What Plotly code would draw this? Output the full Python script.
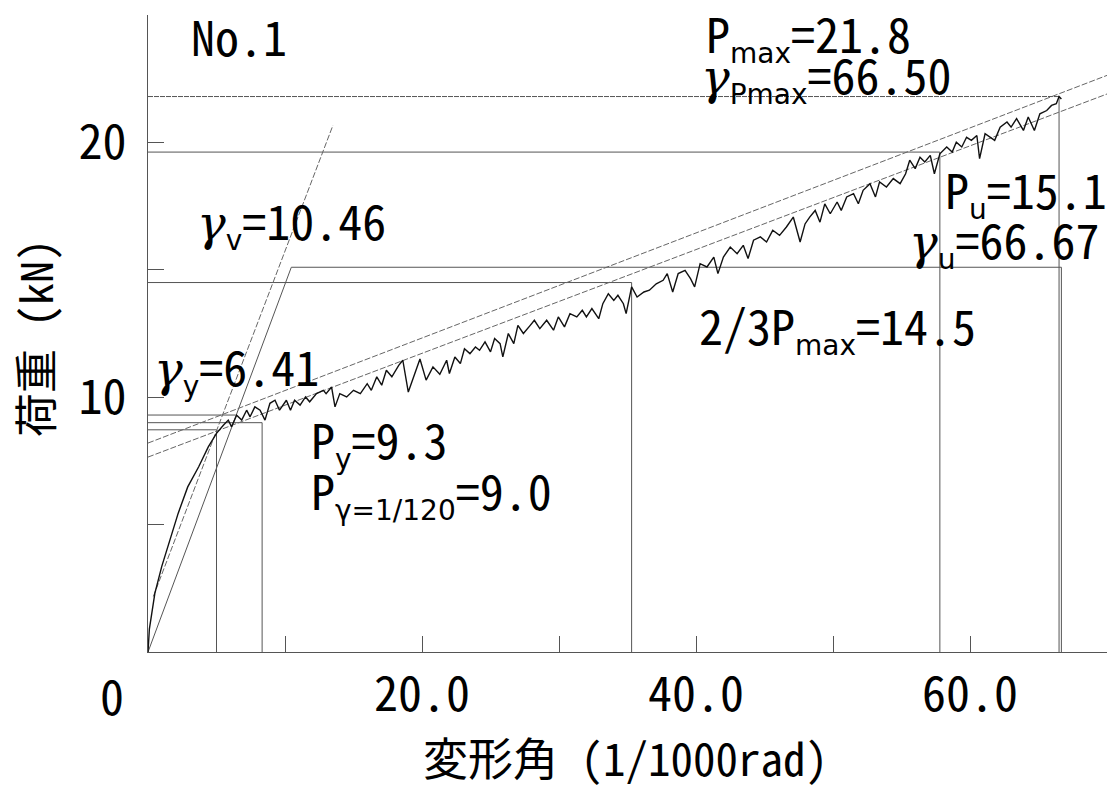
import plotly.graph_objects as go

# ---------------- data ----------------
curve_x = [0, 0.1, 0.27, 0.5, 1.0, 1.5, 2.2, 2.9, 3.7, 4.4,
           5.0, 5.5, 5.86, 6.1, 6.47, 6.84, 7.2, 7.45, 7.8, 8.18,
           8.54, 8.9, 9.27, 9.6, 10.1, 10.4, 10.7, 11.1, 11.5, 11.8,
           12.3, 12.8, 13.0, 13.4, 13.65, 14.0, 14.5, 15.0, 15.5, 16.0,
           16.3, 16.7, 17.06, 17.4, 17.8, 18.3, 18.6, 19.0, 19.4, 19.85,
           20.3, 20.8, 21.3, 21.8, 22.0, 22.4, 22.8, 23.1, 23.5, 23.9,
           24.2, 24.6, 25.0, 25.3, 25.7, 25.9, 26.3, 26.7, 27.0, 27.4,
           27.9, 28.2, 28.6, 29.1, 29.6, 29.95, 30.4, 30.8, 31.3, 31.7,
           32.0, 32.4, 32.9, 33.2, 33.6, 34.0, 34.3, 34.7, 34.9, 35.3,
           35.7, 36.2, 36.6, 37.1, 37.6, 37.9, 38.3, 38.7, 39.2, 39.6,
           39.9, 40.3, 40.8, 41.3, 41.6, 42.0, 42.5, 43.0, 43.45, 43.8,
           44.2, 44.7, 45.15, 45.6, 46.1, 46.6, 47.1, 47.6, 47.96, 48.3,
           48.7, 49.05, 49.4, 49.8, 50.3, 50.6, 51.0, 51.5, 51.85, 52.2,
           52.7, 53.1, 53.4, 53.9, 54.4, 54.9, 55.3, 55.6, 56.0, 56.35,
           56.7, 57.1, 57.4, 57.8, 58.3, 58.7, 59.0, 59.4, 59.75, 60.1,
           60.5, 60.7, 61.1, 61.45, 61.8, 62.2, 62.7, 63.0, 63.4, 63.9,
           64.25, 64.7, 65.1, 65.6, 65.95, 66.3, 66.5, 66.67]
curve_y = [0, 0.9, 1.5, 2.3, 3.35, 4.26, 5.44, 6.48, 7.27, 8.05,
           8.58, 8.9, 9.1, 8.84, 9.29, 9.1, 9.49, 9.23, 9.62, 9.49,
           9.1, 9.76, 9.88, 9.49, 9.88, 9.49, 9.88, 9.69, 10.01, 9.82,
           10.14, 10.27, 10.14, 10.4, 9.62, 10.14, 10.01, 10.27, 10.14, 10.53,
           10.27, 10.8, 10.47, 11.06, 10.8, 11.25, 11.45, 10.2, 10.8, 11.5,
           10.67, 11.19, 10.9, 11.45, 10.93, 11.58, 11.32, 11.9, 11.71, 11.97,
           11.84, 12.17, 11.78, 12.3, 12.1, 11.58, 12.5, 12.1, 12.82, 12.5,
           12.82, 13.02, 12.69, 13.02, 12.63, 13.15, 12.76, 13.28, 13.15, 13.41,
           13.15, 13.48, 13.08, 13.67, 14.06, 13.8, 14.0, 13.67, 13.28, 14.33,
           13.93, 14.13, 14.2, 14.45, 14.59, 14.85, 14.13, 14.85, 14.98, 14.65,
           14.33, 15.24, 15.11, 15.5, 14.85, 15.5, 15.89, 15.63, 15.96, 15.44,
           16.16, 16.29, 16.09, 16.55, 16.35, 16.68, 17.07, 16.09, 16.8, 17.07,
           17.33, 16.87, 17.59, 17.2, 17.66, 17.33, 17.86, 17.99, 17.59, 18.12,
           18.38, 17.86, 18.45, 18.25, 18.58, 18.38, 18.77, 19.3, 18.97, 19.42,
           19.23, 19.49, 18.77, 19.55, 19.82, 19.62, 20.01, 19.82, 20.2, 20.08,
           20.27, 19.36, 20.34, 20.2, 20.08, 20.6, 20.8, 20.6, 20.93, 20.47,
           21.0, 20.47, 21.12, 21.25, 21.45, 21.52, 21.8, 21.7]

# characteristic values
P_max = 21.8
gamma_Pmax = 66.50
P_09max = 19.62
gamma_09max = 57.8
P_u = 15.1
gamma_v = 10.46
gamma_u = 66.67
P_23max = 14.5
gamma_23max = 35.3
P_y = 9.3
gamma_y = 6.41
P_120 = 9.0
gamma_120 = 8.33
P_04max = 8.72
gamma_04max = 5.0

# construction lines (x pairs, y pairs)
line1_x = [0.39, 13.5]       # through 0.1Pmax and 0.4Pmax
line1_y = [2.18, 20.67]
line2_x = [0, 70]            # through 0.4Pmax and 0.9Pmax
line2_y = [7.65, 21.9]
line3_x = [0, 70]            # parallel tangent
line3_y = [8.2, 22.63]

# axis ticks
x_tickvals = [0, 10, 20, 30, 40, 50, 60, 70]
x_ticktext = ["", "", "20.0", "", "40.0", "", "60.0", ""]
y_tickvals = [0, 5, 10, 15, 20, 25]
y_ticktext = ["", "", "10", "", "20", ""]

FONT = "Noto Sans Mono CJK JP, Noto Sans CJK JP, sans-serif"
GRAY = "#555555"
G = '<span style="font-family:DejaVu Serif;font-style:italic">γ</span>'


def sub(s):
    return '<sub><span style="font-family:DejaVu Sans;font-size:28px">' + s + '</span></sub>'


fig = go.Figure()


def seg(xs, ys, dash="solid", color=GRAY, width=1):
    fig.add_trace(go.Scatter(x=xs, y=ys, mode="lines",
                             line=dict(color=color, width=width, dash=dash),
                             showlegend=False, hoverinfo="skip"))


# horizontal / vertical reference lines
seg([0, gamma_Pmax], [P_max, P_max], dash="5px,1px")
seg([gamma_Pmax, gamma_Pmax], [0, P_max])
seg([0, gamma_09max], [P_09max, P_09max])
seg([gamma_09max, gamma_09max], [0, P_09max])
seg([0, gamma_23max], [P_23max, P_23max])
seg([gamma_23max, gamma_23max], [0, P_23max])
seg([0, gamma_y], [P_y, P_y])
seg([0, gamma_120], [P_120, P_120])
seg([gamma_120, gamma_120], [0, P_120])
seg([0, gamma_04max], [P_04max, P_04max])
seg([gamma_04max, gamma_04max], [0, P_04max])
# bilinear (elasto-plastic) model
seg([0, gamma_v, gamma_u, gamma_u], [0, P_u, P_u, 0])
# construction lines
seg(line1_x, line1_y, dash="6px,2px", color="#666666")
seg(line2_x, line2_y, dash="6px,2px", color="#666666")
seg(line3_x, line3_y, dash="6px,2px", color="#666666")

# test curve
fig.add_trace(go.Scatter(x=curve_x, y=curve_y, mode="lines",
                         line=dict(color="#111111", width=1.4),
                         showlegend=False, hoverinfo="skip"))

anns = [
    ("No.1", 3.07, 24.22),
    ("P" + sub("max") + "=21.8", 40.66, 24.28),
    (G + sub("Pmax") + "=66.50", 40.3, 22.68),
    (G + sub("v") + "=10.46", 3.5, 16.95),
    ("P" + sub("u") + "=15.1", 58.1, 18.15),
    (G + sub("u") + "=66.67", 55.5, 16.17),
    (G + sub("y") + "=6.41", 0.4, 11.2),
    ("P" + sub("y") + "=9.3", 11.82, 8.33),
    ("P" + sub("γ=1/120") + "=9.0", 11.82, 6.35),
    ("2/3P" + sub("max") + "=14.5", 40.15, 12.83),
]
for t, x, y in anns:
    fig.add_annotation(x=x, y=y, xref="x", yref="y", text=t, showarrow=False,
                       xanchor="left", yanchor="middle", borderpad=0,
                       font=dict(family=FONT, size=48, color="black"))

# origin label and axis titles (paper coordinates)
fig.add_annotation(x=-0.0375, y=-0.066, xref="paper", yref="paper", text="0",
                   showarrow=False, xanchor="center", yanchor="middle",
                   font=dict(family=FONT, size=48, color="black"))
fig.add_annotation(x=0.4984, y=-0.164, xref="paper", yref="paper",
                   text="変形角 (1/1000rad)", showarrow=False,
                   xanchor="center", yanchor="middle", borderpad=0,
                   font=dict(family=FONT, size=45, color="black"))
fig.add_annotation(x=-0.1189, y=0.4929, xref="paper", yref="paper", text="荷重 (kN)",
                   showarrow=False, xanchor="center", yanchor="middle", textangle=-90,
                   font=dict(family=FONT, size=44, color="black"))

axis_common = dict(showgrid=False, zeroline=False, linecolor=GRAY, linewidth=1,
                   tickcolor=GRAY, tickwidth=1, ticklen=16,
                   tickfont=dict(family=FONT, size=48, color="black"))

fig.update_layout(
    width=1111, height=787,
    margin=dict(l=148, r=4, t=15, b=135),
    paper_bgcolor="white", plot_bgcolor="white",
    xaxis=dict(range=[0, 70], tickmode="array", tickvals=x_tickvals, ticktext=x_ticktext,
               ticks="inside", showline=True, ticklabelstandoff=0, **axis_common),
    yaxis=dict(range=[0, 25], tickmode="array", tickvals=y_tickvals, ticktext=y_ticktext,
               ticks="inside", showline=True, ticklabelstandoff=11, **axis_common),
    xaxis2=dict(range=[0, 70], overlaying="x", anchor="y", side="bottom",
                tickmode="array", tickvals=x_tickvals, showticklabels=False,
                ticks="outside", showline=False, **axis_common),
    yaxis2=dict(range=[0, 25], overlaying="y", anchor="x", side="left",
                tickmode="array", tickvals=y_tickvals, showticklabels=False,
                ticks="outside", showline=False, **axis_common),
)

fig.write_html("out.html")
